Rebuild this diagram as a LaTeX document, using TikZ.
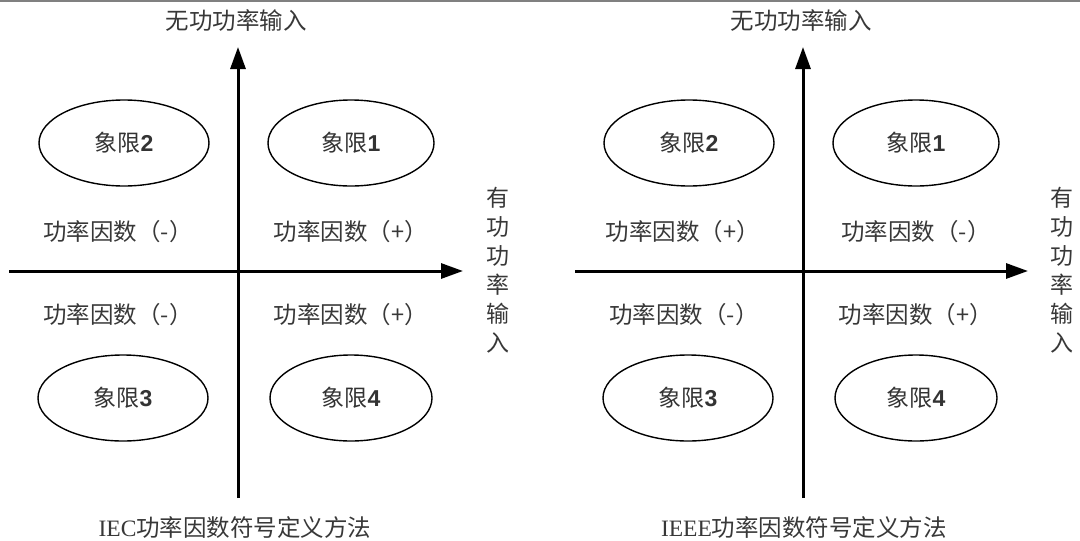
\documentclass[tikz,border=0pt]{standalone}
\usepackage{fontspec}
\setmainfont{Liberation Serif}
\newfontfamily\cjk{Noto Sans CJK SC}
\newfontfamily\digitfont{Liberation Sans}
\usetikzlibrary{arrows.meta,shapes.geometric}
\tikzset{
  axis/.style={line width=3pt,-{Triangle[length=22pt,width=15pt]}},
  quad/.style={draw,ellipse,line width=1.4pt,minimum width=170pt,minimum height=86pt,inner sep=0pt,font=\fontsize{23}{25}\selectfont\cjk,text=black!80},
  lbl/.style={font=\fontsize{23.5}{25}\selectfont\cjk,text=black!78,inner sep=0pt},
  ttl/.style={font=\fontsize{23.5}{25}\selectfont\cjk,text=black!78,inner sep=0pt},
  vlbl/.style={font=\fontsize{23}{29}\selectfont\cjk,text=black!78,align=center,inner sep=0pt},
}
\newcommand{\dg}[1]{{\digitfont\bfseries #1}}
\begin{document}
\begin{tikzpicture}[x=1pt,y=-1pt]
\useasboundingbox (0,0) rectangle (1080,541);
\fill[white] (0,0) rectangle (1080,541);
\draw[gray,line width=2pt] (0,1) -- (1080,1);
% ---------- left diagram ----------
\coordinate (Lb) at (238,498);
\coordinate (Lt) at (238,47);
\coordinate (Ll) at (9,271);
\coordinate (Lr) at (463,271);
\draw[axis] (Lb) -- (Lt);
\draw[axis] (Ll) -- (Lr);
\node[ttl] (Ltop) at (236,20) {无功功率输入};
\node[vlbl] (Lright) at (498,270) {有\\功\\功\\率\\输\\入};
\node[ttl,font=\fontsize{23.5}{25}\selectfont] (Lbot) at (235,528) {IEC{\cjk 功率因数符号定义方法}};
\node[quad] (L2) at (124,143) {象限\dg{2}};
\node[quad,minimum width=166pt] (L1) at (351,143) {象限\dg{1}};
\node[quad] (L3) at (123,398) {象限\dg{3}};
\node[quad,minimum width=162pt] (L4) at (351,398) {象限\dg{4}};
\node[lbl] (Lpf2) at (118,232) {功率因数（-）};
\node[lbl] (Lpf1) at (351,232) {功率因数（+）};
\node[lbl] (Lpf3) at (118,315) {功率因数（-）};
\node[lbl] (Lpf4) at (351,315) {功率因数（+）};
% ---------- right diagram ----------
\coordinate (Rb) at (803,498);
\coordinate (Rt) at (803,47);
\coordinate (Rl) at (575,271);
\coordinate (Rr) at (1028,271);
\draw[axis] (Rb) -- (Rt);
\draw[axis] (Rl) -- (Rr);
\node[ttl] (Rtop) at (801,20) {无功功率输入};
\node[vlbl] (Rright) at (1062,270) {有\\功\\功\\率\\输\\入};
\node[ttl,font=\fontsize{23.5}{25}\selectfont] (Rbot) at (804,528) {IEEE{\cjk 功率因数符号定义方法}};
\node[quad] (R2) at (689,143) {象限\dg{2}};
\node[quad,minimum width=166pt] (R1) at (916,143) {象限\dg{1}};
\node[quad] (R3) at (688,398) {象限\dg{3}};
\node[quad,minimum width=162pt] (R4) at (916,398) {象限\dg{4}};
\node[lbl] (Rpf2) at (683,232) {功率因数（+）};
\node[lbl] (Rpf1) at (916,232) {功率因数（-）};
\node[lbl] (Rpf3) at (684,315) {功率因数（-）};
\node[lbl] (Rpf4) at (916,315) {功率因数（+）};
\end{tikzpicture}
\end{document}
